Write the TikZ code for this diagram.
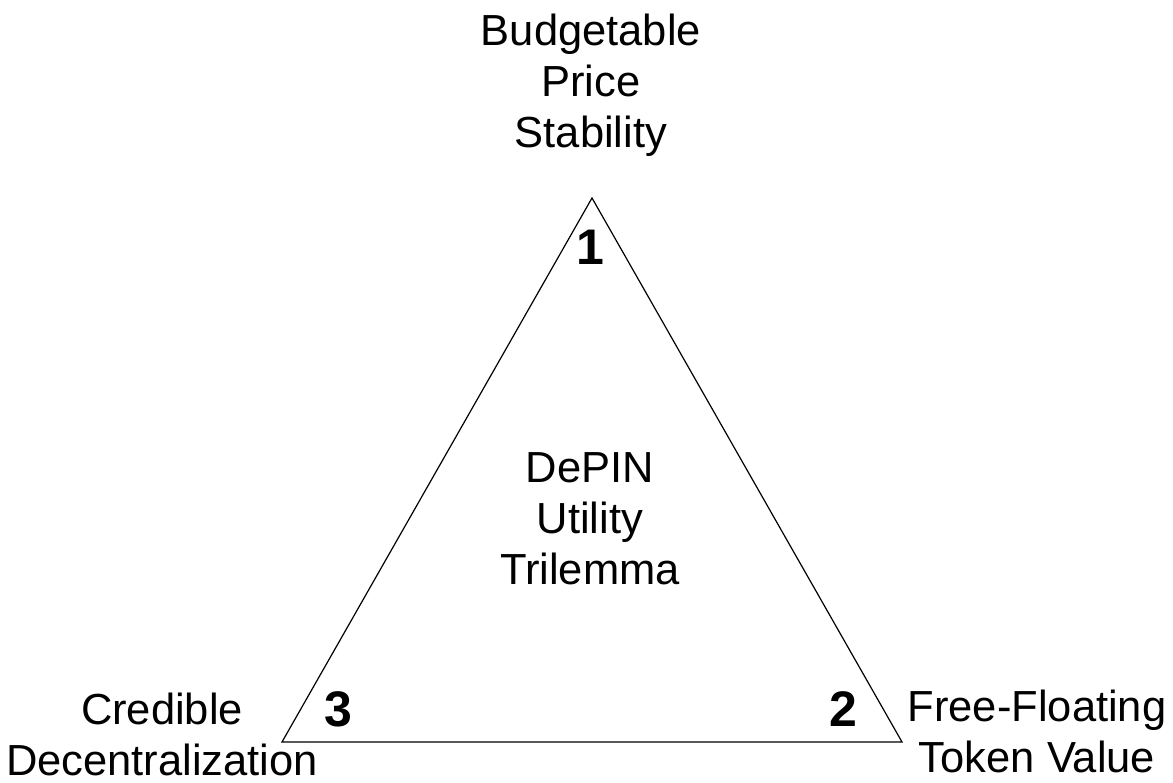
\documentclass[tikz,border=0pt]{standalone}
\usepackage{fontspec}
\setmainfont{Liberation Sans}
\usepackage{tikz}

\tikzset{
  corner label/.style={align=center, inner sep=0pt, font=\fontsize{43.5}{51}\selectfont},
  corner number/.style={inner sep=0pt, font=\fontsize{50}{60}\selectfont\bfseries},
}

\begin{document}
\begin{tikzpicture}[x=1pt,y=-1pt]
          \useasboundingbox[fill=white] (0,0) rectangle (1173,783);

          % the triangle
          \coordinate (peak) at (592,198);
          \coordinate (rightcorner) at (902,742);
          \coordinate (leftcorner) at (282,742);
          \draw[line width=1.2pt, line join=miter] (peak) -- (rightcorner) -- (leftcorner) -- cycle;

          % numbers in the corners
          \node[corner number] (one) at (590,247) {1};
          \node[corner number] (two) at (843,709) {2};
          \node[corner number] (three) at (338,709) {3};

          % labels
          \node[corner label] (stability) at (591,85) {Budgetable\\Price\\Stability};
          \node[corner label] (decentral) at (162,734) {Credible\\Decentralization};
          \node[corner label] (tokenvalue) at (1037,731) {Free-Floating\\Token Value};
          \node[corner label] (trilemma) at (590,519) {DePIN\\Utility\\Trilemma};
        \end{tikzpicture}
\end{document}
